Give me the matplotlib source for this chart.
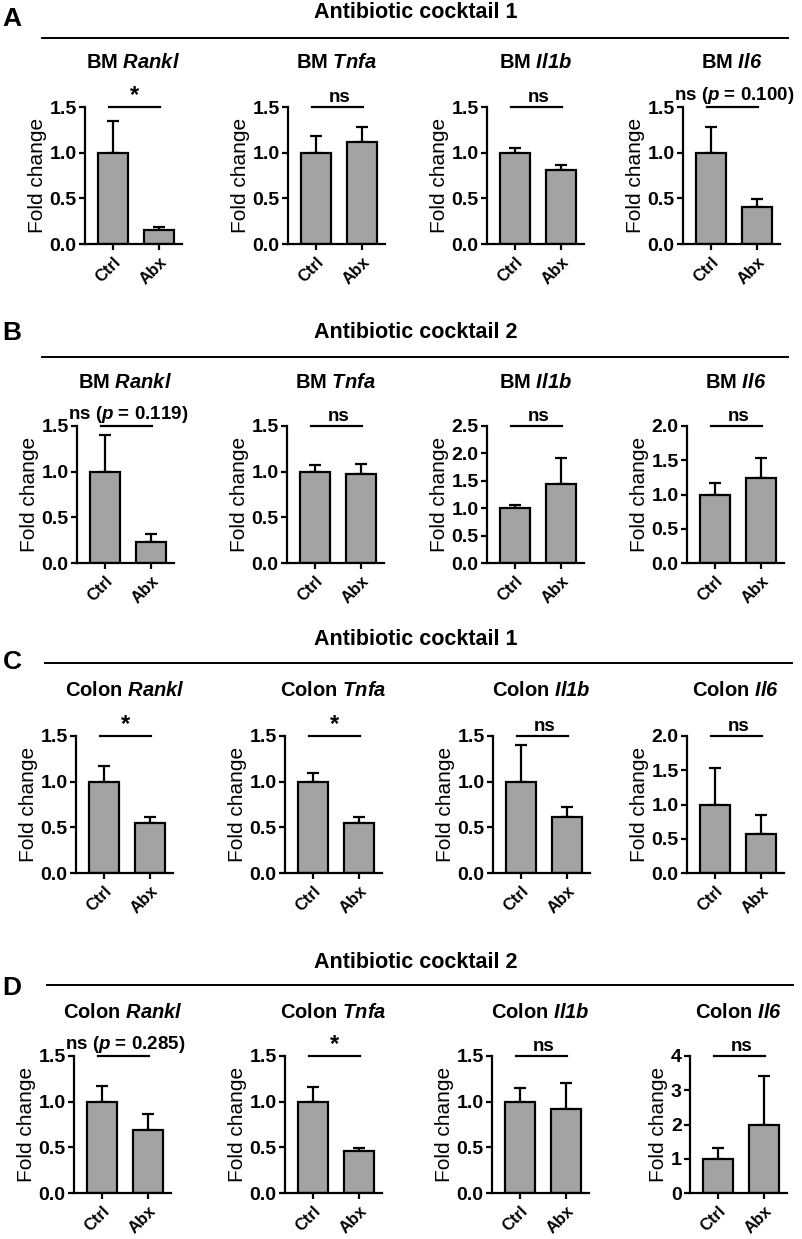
import numpy as np
import matplotlib
matplotlib.use("Agg")
import matplotlib.pyplot as plt
import matplotlib.transforms as mtransforms
from matplotlib.lines import Line2D

plt.rcParams['font.family'] = ['Liberation Sans', 'DejaVu Sans']
plt.rcParams['font.weight'] = 'bold'
# math parts are only used for the italic gene names and p, so rm is italic too
# (mathtext draws digits of \mathit with the rm font)
plt.rcParams['mathtext.fontset'] = 'custom'
plt.rcParams['mathtext.rm'] = 'Liberation Sans:bold:italic'
plt.rcParams['mathtext.it'] = 'Liberation Sans:bold:italic'
plt.rcParams['mathtext.bf'] = 'Liberation Sans:bold'

# ========= Data =========
groups = ["Ctrl", "Abx"]
genes = ["Rankl", "Tnfa", "Il1b", "Il6"]

row_letters = ["A", "B", "C", "D"]
row_headers = ["Antibiotic cocktail 1", "Antibiotic cocktail 2",
               "Antibiotic cocktail 1", "Antibiotic cocktail 2"]
row_tissue = ["BM", "BM", "Colon", "Colon"]

# mean fold change (Ctrl, Abx) per gene, upper SEM
a_mean = [[1.0, 0.15], [1.0, 1.12], [1.0, 0.81], [1.0, 0.40]]
a_err = [[0.35, 0.04], [0.18, 0.16], [0.05, 0.06], [0.28, 0.09]]
a_sig = ["*", "ns", "ns", "ns ($p$ = 0.100)"]
a_ymax = [1.5, 1.5, 1.5, 1.5]

b_mean = [[1.0, 0.23], [1.0, 0.97], [1.0, 1.45], [1.0, 1.24]]
b_err = [[0.40, 0.09], [0.07, 0.11], [0.05, 0.46], [0.17, 0.30]]
b_sig = ["ns ($p$ = 0.119)", "ns", "ns", "ns"]
b_ymax = [1.5, 1.5, 2.5, 2.0]

c_mean = [[1.0, 0.55], [1.0, 0.55], [1.0, 0.61], [1.0, 0.57]]
c_err = [[0.17, 0.06], [0.10, 0.06], [0.40, 0.11], [0.53, 0.28]]
c_sig = ["*", "*", "ns", "ns"]
c_ymax = [1.5, 1.5, 1.5, 2.0]

d_mean = [[1.0, 0.69], [1.0, 0.46], [1.0, 0.92], [1.0, 1.98]]
d_err = [[0.17, 0.18], [0.16, 0.03], [0.15, 0.28], [0.32, 1.43]]
d_sig = ["ns ($p$ = 0.285)", "*", "ns", "ns"]
d_ymax = [1.5, 1.5, 1.5, 4.0]

all_mean = [a_mean, b_mean, c_mean, d_mean]
all_err = [a_err, b_err, c_err, d_err]
all_sig = [a_sig, b_sig, c_sig, d_sig]
all_ymax = [a_ymax, b_ymax, c_ymax, d_ymax]

# ========= Layout (pixels) =========
W, H = 802, 1239
spine_x = [[85, 288, 487, 683],
           [77, 287, 487, 687],
           [76, 285, 493, 687],
           [74, 285, 492, 690]]
ax_top = [107, 426, 736, 1056]
ax_h = 137
ax_w = 97
header_y = [12, 333, 640, 962]
line_y = [38, 357, 663, 985]
line_x = [(42, 788), (42, 788), (45, 792), (47, 793)]
letter_y = [19, 333, 662, 988]
title_y = [62, 382, 690, 1012]

fig = plt.figure(figsize=(W / 100, H / 100), dpi=100)

x = np.arange(len(groups))
for r in range(4):
    fig.text(12 / W, 1 - letter_y[r] / H, row_letters[r], fontsize=19,
             ha='center', va='center')
    fig.text(416 / W, 1 - header_y[r] / H, row_headers[r], fontsize=15.5,
             ha='center', va='center')
    fig.add_artist(Line2D([line_x[r][0] / W, line_x[r][1] / W],
                          [1 - line_y[r] / H, 1 - line_y[r] / H],
                          color='black', lw=1.4, transform=fig.transFigure))
    for c in range(4):
        left = spine_x[r][c] / W
        bottom = 1 - (ax_top[r] + ax_h) / H
        ax = fig.add_axes([left, bottom, ax_w / W, ax_h / H])
        mean = all_mean[r][c]
        err = all_err[r][c]
        ymax = all_ymax[r][c]

        ax.errorbar(x, mean, yerr=[np.zeros(2), err], fmt='none',
                    ecolor='black', elinewidth=1.6, capsize=4.5, capthick=1.6,
                    zorder=1)
        ax.bar(x, mean, width=0.65, color='#a3a3a3', edgecolor='black',
               linewidth=1.6, zorder=2)

        ax.set_xlim(-0.62, 1.5)
        ax.set_ylim(0, ymax)
        step = 1.0 if ymax > 2.5 else 0.5
        ticks = np.arange(0, ymax + 1e-9, step)
        ax.set_yticks(ticks)
        if step == 1.0:
            ax.set_yticklabels([f"{t:.0f}" for t in ticks])
        else:
            ax.set_yticklabels([f"{t:.1f}" for t in ticks])
        ax.set_xticks(x)
        ax.set_xticklabels(groups, rotation=45, ha='right',
                           rotation_mode='anchor')
        ax.tick_params(axis='both', width=1.6, length=4.5, labelsize=14,
                       pad=1.5)
        ax.tick_params(axis='x', labelsize=12, pad=3)
        for side in ['top', 'right']:
            ax.spines[side].set_visible(False)
        for side in ['left', 'bottom']:
            ax.spines[side].set_linewidth(1.6)
        ax.set_ylabel("Fold change", fontsize=15, labelpad=2)

        # title over the panel
        ax.text(0.5, 1 - title_y[r] / H, f"{row_tissue[r]} $\\mathit{{{genes[c]}}}$",
                transform=mtransforms.blended_transform_factory(
                    ax.transAxes, fig.transFigure),
                ha='center', va='center', fontsize=14.5)

        # significance bar
        ax.plot([-0.1, 1.02], [ymax, ymax], color='black', lw=1.6,
                clip_on=False)
        sig = all_sig[r][c]
        if sig == "*":
            ax.text(0.46, ymax, sig, ha='center', va='bottom', fontsize=17)
        else:
            ax.text(0.5, ymax * 1.005, sig, ha='center', va='bottom',
                    fontsize=13.5)

fig.savefig("out.png", dpi=100)
